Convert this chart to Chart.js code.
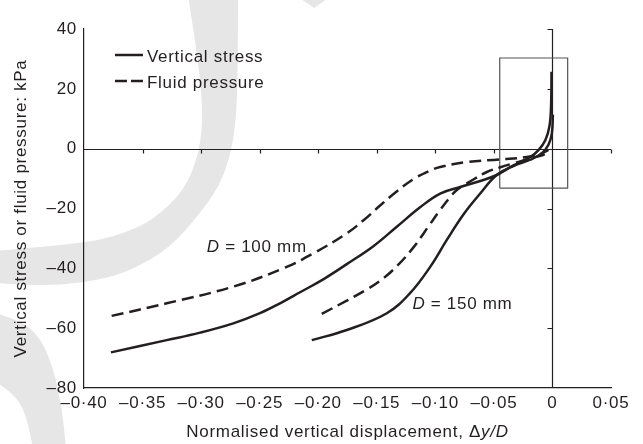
<!DOCTYPE html>
<html>
<head>
<meta charset="utf-8">
<script src="https://cdn.jsdelivr.net/npm/chart.js@4.4.1/dist/chart.umd.min.js"></script>
<style>
  html, body { margin: 0; padding: 0; background: #ffffff; }
  #wrap { width: 643px; height: 444px; }
</style>
</head>
<body>
<div id="wrap"><canvas id="chart" width="643" height="444"></canvas></div>
<script>
// Axis ticks and labels
const xTickValues = [-0.40, -0.35, -0.30, -0.25, -0.20, -0.15, -0.10, -0.05, 0, 0.05];
const xTickLabels = ['–0·40', '–0·35', '–0·30', '–0·25', '–0·20', '–0·15', '–0·10', '–0·05', '0', '0·05'];
const yTickValues = [-80, -60, -40, -20, 0, 20, 40];
const yTickLabels = ['–80', '–60', '–40', '–20', '0', '20', '40'];

// D = 100 mm, vertical stress
const d100StressX = [-0.377, -0.3294, -0.3009, -0.2725, -0.2497, -0.2326, -0.2155, -0.1950, -0.1756, -0.1529, -0.1329, -0.1130, -0.0959, -0.0788, -0.0617, -0.0476, -0.0333, -0.0190, -0.0117, -0.0060, -0.0026, -0.0012, -0.0008];
const d100StressY = [-68.1, -64.0, -61.5, -58.4, -55.0, -51.7, -48.0, -43.5, -38.6, -32.6, -26.1, -19.6, -15.0, -12.8, -10.8, -8.8, -5.6, -2.8, -0.4, 2.9, 7.4, 14.1, 25.7];

// D = 100 mm, fluid pressure
const d100FluidX = [-0.3764, -0.3294, -0.2725, -0.2298, -0.2041, -0.1756, -0.1600, -0.1472, -0.1330, -0.1187, -0.1050, -0.0959, -0.0731, -0.0447, -0.0219, -0.0100, -0.0034];
const d100FluidY = [-55.9, -51.7, -46.1, -40.0, -35.0, -28.3, -23.5, -19.0, -14.3, -10.2, -7.4, -6.1, -4.5, -3.6, -2.8, -1.8, -0.4];

// D = 150 mm, vertical stress
const d150StressX = [-0.2055, -0.1756, -0.1414, -0.1216, -0.1044, -0.0902, -0.0760, -0.0617, -0.0476, -0.0333, -0.0190, -0.0090, -0.0034, -0.0005, 0.0004];
const d150StressY = [-64.0, -60.6, -55.0, -48.3, -39.5, -30.5, -22.0, -15.0, -8.8, -5.8, -3.7, -1.5, 1.3, 5.1, 11.4];

// D = 150 mm, fluid pressure
const d150FluidX = [-0.1970, -0.1756, -0.1600, -0.1472, -0.1329, -0.1187, -0.1050, -0.0959, -0.0870, -0.0816, -0.0675, -0.0560, -0.0450, -0.0333, -0.0190, -0.0080, -0.0020];
const d150FluidY = [-55.2, -50.8, -47.4, -44.2, -39.3, -33.0, -25.5, -20.5, -16.0, -13.8, -10.3, -7.8, -6.3, -4.9, -3.3, -2.1, -1.2];

// Detail window around the origin
const boxX = [-0.045, 0.013];
const boxY = [-13.2, 30.3];

// Text
const legendLabels = ['Vertical stress', 'Fluid pressure'];
const curveLabels = [
  { x: -0.2952, y: -34.5, text: ' = 100 mm' },
  { x: -0.1196, y: -53.6, text: ' = 150 mm' }
];
const yTitle = 'Vertical stress or fluid pressure: kPa';
const xTitleMain = 'Normalised vertical displacement, Δ';
const xTitleItalic = 'y/D';

const INK = '#231f20';
const FONT = '"Liberation Sans", Arial, Helvetica, sans-serif';
const FONT_SIZE = 17;
const SPACING = '0.7px';
const DASH = [12, 6];

function pts(xs, ys) { return xs.map((x, i) => ({ x, y: ys[i] })); }

function curve(xs, ys, dashed) {
  return {
    data: pts(xs, ys),
    showLine: true,
    borderColor: INK,
    borderWidth: 2.5,
    borderDash: dashed ? DASH : [],
    pointRadius: 0,
    tension: 0.4,
    fill: false
  };
}

function boxData() {
  return [
    { x: boxX[0], y: boxY[0] }, { x: boxX[1], y: boxY[0] },
    { x: boxX[1], y: boxY[1] }, { x: boxX[0], y: boxY[1] },
    { x: boxX[0], y: boxY[0] }
  ];
}

// Smooth outline helper (quadratic curves through midpoints)
function tracePath(ctx, p, start) {
  if (start) ctx.moveTo(p[0][0], p[0][1]); else ctx.lineTo(p[0][0], p[0][1]);
  for (let i = 1; i < p.length - 1; i++) {
    const mx = (p[i][0] + p[i + 1][0]) / 2, my = (p[i][1] + p[i + 1][1]) / 2;
    ctx.quadraticCurveTo(p[i][0], p[i][1], mx, my);
  }
  const l = p[p.length - 1];
  ctx.lineTo(l[0], l[1]);
}

const decorations = {
  id: 'decorations',
  beforeDraw(chart) {
    const ctx = chart.ctx;
    ctx.letterSpacing = SPACING;
    // pale background emblem
    ctx.save();
    ctx.fillStyle = '#e6e6e6';
    ctx.beginPath();
    tracePath(ctx, [[238, -5], [238, 60], [236, 130], [224, 178], [203, 210], [170, 248], [132, 270], [100, 280], [60, 285], [25, 285], [-5, 283]], true);
    tracePath(ctx, [[-5, 251], [30, 248], [70, 244], [100, 240], [127, 232], [153, 220], [185, 190], [200, 150], [203, 110], [198, 60], [188, -5]], false);
    ctx.closePath();
    ctx.fill();
    ctx.beginPath();
    tracePath(ctx, [[-5, 313], [20, 320], [40, 337], [53, 367], [62, 407], [66, 449]], true);
    tracePath(ctx, [[33, 449], [28, 420], [17, 397], [-5, 381]], false);
    ctx.closePath();
    ctx.fill();
    ctx.beginPath();
    ctx.moveTo(301, -1); ctx.lineTo(327, -1); ctx.lineTo(314, 8); ctx.closePath();
    ctx.fill();
    ctx.restore();
  },
  beforeDatasetsDraw(chart) {
    // axes crossing at the origin
    const { ctx, scales: { x, y } } = chart;
    const y0 = Math.round(y.getPixelForValue(0)) + 0.5;
    const x0 = Math.round(x.getPixelForValue(0)) + 0.5;
    ctx.save();
    ctx.strokeStyle = INK;
    ctx.lineWidth = 1.2;
    ctx.beginPath();
    ctx.moveTo(x.getPixelForValue(x.min), y0);
    ctx.lineTo(x.getPixelForValue(x.max), y0);
    xTickValues.forEach(v => {
      if (v === x.min) return;
      const px = Math.round(x.getPixelForValue(v)) + 0.5;
      ctx.moveTo(px, y0); ctx.lineTo(px, y0 + 4);
    });
    ctx.moveTo(x0, y.getPixelForValue(y.min));
    ctx.lineTo(x0, y.getPixelForValue(y.max));
    yTickValues.forEach(v => {
      if (v === y.min || v === 0) return;
      const py = Math.round(y.getPixelForValue(v)) + 0.5;
      ctx.moveTo(x0, py); ctx.lineTo(x0 - 5, py);
    });
    ctx.stroke();
    ctx.restore();
  },
  afterDraw(chart) {
    const { ctx, chartArea: a, scales: { x, y } } = chart;
    ctx.save();
    ctx.letterSpacing = SPACING;
    ctx.fillStyle = INK;
    ctx.strokeStyle = INK;
    const normal = FONT_SIZE + 'px ' + FONT;
    const italic = 'italic ' + FONT_SIZE + 'px ' + FONT;
    ctx.font = normal;
    ctx.textBaseline = 'alphabetic';
    ctx.textAlign = 'left';

    // legend
    const lx = a.left + 31, lw = 28, tx = a.left + 63;
    ctx.lineWidth = 2.5;
    ctx.beginPath(); ctx.moveTo(lx, 55); ctx.lineTo(lx + lw, 55); ctx.stroke();
    ctx.beginPath(); ctx.moveTo(lx, 81); ctx.lineTo(lx + 12, 81);
    ctx.moveTo(lx + 16, 81); ctx.lineTo(lx + lw, 81); ctx.stroke();
    ctx.fillText(legendLabels[0], tx, 62);
    ctx.fillText(legendLabels[1], tx, 88);

    // curve labels
    curveLabels.forEach(c => {
      const px = x.getPixelForValue(c.x), py = y.getPixelForValue(c.y);
      ctx.font = italic;
      ctx.fillText('D', px, py);
      const w = ctx.measureText('D').width;
      ctx.font = normal;
      ctx.fillText(c.text, px + w, py);
    });

    // x title
    ctx.font = normal;
    const w1 = ctx.measureText(xTitleMain).width;
    ctx.font = italic;
    const w2 = ctx.measureText(xTitleItalic).width;
    const cx = (a.left + a.right) / 2;
    const sx = cx - (w1 + w2) / 2;
    ctx.font = normal;
    ctx.fillText(xTitleMain, sx, 437);
    ctx.font = italic;
    ctx.fillText(xTitleItalic, sx + w1, 437);

    // y title
    ctx.font = normal;
    ctx.translate(21, (a.top + a.bottom) / 2);
    ctx.rotate(-Math.PI / 2);
    ctx.textAlign = 'center';
    ctx.textBaseline = 'middle';
    ctx.fillText(yTitle, 0, 0);
    ctx.restore();
  }
};

const canvas = document.getElementById('chart');

new Chart(canvas, {
  type: 'scatter',
  data: {
    datasets: [
      curve(d100StressX, d100StressY, false),
      curve(d100FluidX, d100FluidY, true),
      curve(d150StressX, d150StressY, false),
      curve(d150FluidX, d150FluidY, true),
      {
        data: boxData(), showLine: true, borderColor: '#555555', borderWidth: 1.2,
        pointRadius: 0, tension: 0, fill: false
      }
    ]
  },
  options: {
    responsive: false,
    animation: false,
    devicePixelRatio: 1,
    layout: { padding: { left: 0, top: 29, right: 32, bottom: 0 } },
    plugins: { legend: { display: false }, tooltip: { enabled: false } },
    scales: {
      x: {
        type: 'linear', min: -0.40, max: 0.05,
        grid: { display: false, drawTicks: false },
        border: { display: true, color: INK, width: 1.2 },
        ticks: {
          autoSkip: false, maxRotation: 0, padding: 5, color: INK,
          font: { family: FONT, size: FONT_SIZE },
          callback: (v, i) => xTickLabels[i]
        },
        afterBuildTicks: s => { s.ticks = xTickValues.map(v => ({ value: v })); },
        afterFit: s => { s.height = 56; }
      },
      y: {
        type: 'linear', min: -80, max: 40,
        grid: { display: false, drawTicks: false },
        border: { display: true, color: INK, width: 1.2 },
        ticks: {
          autoSkip: false, padding: 7, color: INK,
          font: { family: FONT, size: FONT_SIZE },
          callback: (v, i) => yTickLabels[i]
        },
        afterBuildTicks: s => { s.ticks = yTickValues.map(v => ({ value: v })); },
        afterFit: s => { s.width = 84; }
      }
    }
  },
  plugins: [decorations]
});
</script>
</body>
</html>
